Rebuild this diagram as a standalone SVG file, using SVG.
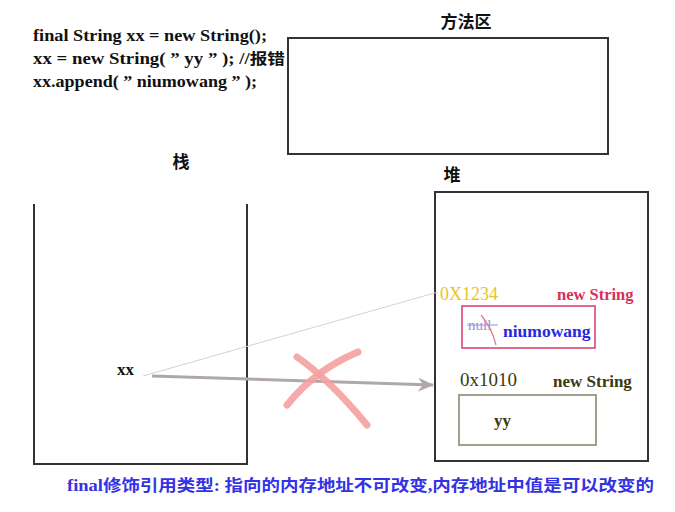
<svg xmlns="http://www.w3.org/2000/svg" width="675" height="512" viewBox="0 0 675 512">
<defs>
<style>
.code{font-family:"Liberation Serif","Times New Roman",serif;font-weight:bold;font-size:16px;fill:#111}
.cjk{font-family:"Liberation Serif","Noto Sans CJK SC",serif;font-weight:bold;font-size:15px}
.title{font-family:"Noto Sans CJK SC",serif;font-weight:bold;font-size:17px;fill:#111}
.box{fill:none;stroke:#333;stroke-width:2}
.lbl{font-family:"Liberation Serif","Times New Roman",serif;font-size:16px}
</style>
<marker id="ah" viewBox="0 0 16 14" refX="15" refY="7" markerWidth="16" markerHeight="14" markerUnits="userSpaceOnUse" orient="auto">
<path d="M0,0 L16,7 L0,14 L5,7 Z" fill="#b0a8a8"/>
</marker>
</defs>
<rect width="675" height="512" fill="#fff"/>

<g id="code">
<text class="code" x="33" y="41" textLength="234" lengthAdjust="spacingAndGlyphs">final String xx = new String();</text>
<text class="code" x="33" y="64" textLength="252" lengthAdjust="spacingAndGlyphs">xx = new String( ” yy ” ); //<tspan class="cjk" font-size="15">报错</tspan></text>
<text class="code" x="33" y="87" textLength="224" lengthAdjust="spacingAndGlyphs">xx.append( ” niumowang ” );</text>
</g>

<g id="method-area">
<text class="title" x="466" y="28" text-anchor="middle">方法区</text>
<rect class="box" x="288" y="38" width="320" height="116"/>
</g>

<g id="stack">
<text class="title" x="181" y="168" text-anchor="middle">栈</text>
<path class="box" d="M34,204 V464 H247 V204"/>
<text class="code" x="117" y="375" style="font-size:17px">xx</text>
</g>

<g id="heap">
<text class="title" x="452" y="181" text-anchor="middle">堆</text>
<rect class="box" x="435" y="192" width="213" height="269"/>
</g>

<g id="obj1">
<text class="lbl" x="440" y="300" style="fill:#e8c428;font-size:18px">0X1234</text>
<text class="lbl" x="557" y="300" style="fill:#d8305a;font-weight:bold;font-size:16.5px">new String</text>
<rect x="462" y="306" width="133" height="42" fill="none" stroke="#d83a6a" stroke-width="1.5"/>
<text class="lbl" x="468" y="330" style="fill:#9a90e0;font-size:15px">null</text>
<line x1="467" y1="325" x2="498" y2="325" stroke="#9a90e0" stroke-width="1"/>
<path d="M481,315 Q492,328 496,345" fill="none" stroke="#d88080" stroke-width="1.2"/>
<text class="lbl" x="503" y="337" style="fill:#2828e0;font-weight:bold;font-size:17.5px">niumowang</text>
</g>

<g id="obj2">
<text class="lbl" x="460" y="386" style="fill:#3a3a10;font-size:19px">0x1010</text>
<text class="lbl" x="553" y="387" style="fill:#3a3a10;font-weight:bold;font-size:17px">new String</text>
<rect x="459" y="395" width="137" height="50" fill="none" stroke="#a0a090" stroke-width="2"/>
<text class="code" x="494" y="426" style="fill:#3a3a10;font-size:17px">yy</text>
</g>

<g id="connectors">
<line x1="143" y1="376" x2="438" y2="292" stroke="#d8d0d0" stroke-width="1"/>
<line x1="152" y1="376" x2="433" y2="385" stroke="#b0a8a8" stroke-width="3" marker-end="url(#ah)"/>
<path d="M297,357 Q330,380 367,425" fill="none" stroke="#f4a0a0" stroke-width="7" stroke-linecap="round" opacity="0.9"/>
<path d="M358,352 Q315,370 287,405" fill="none" stroke="#f4a0a0" stroke-width="7" stroke-linecap="round" opacity="0.9"/>
</g>

<g id="note">
<text class="cjk" x="67" y="491" style="fill:#3333e6;font-size:16px" textLength="587" lengthAdjust="spacingAndGlyphs">final修饰引用类型: 指向的内存地址不可改变,内存地址中值是可以改变的</text>
</g>
</svg>
